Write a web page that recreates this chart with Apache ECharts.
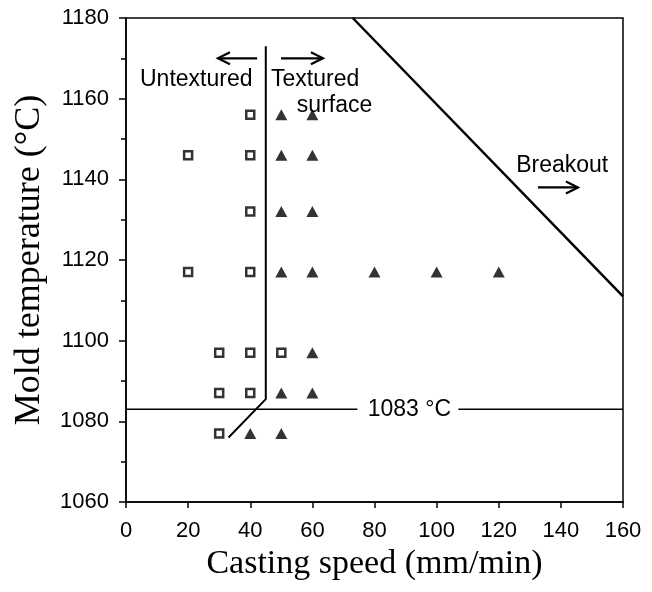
<!DOCTYPE html>
<html>
<head>
<meta charset="utf-8">
<script src="https://cdn.jsdelivr.net/npm/echarts@6/dist/echarts.min.js"></script>
<style>html,body{margin:0;padding:0;background:#fff}#c{width:652px;height:592px}</style>
</head>
<body>
<div id="c"></div>
<script>
// Data
const xTicks = [0, 20, 40, 60, 80, 100, 120, 140, 160];
const yTicks = [1060, 1080, 1100, 1120, 1140, 1160, 1180];
const untextured = [[40,1156],[20,1146],[40,1146],[40,1132],[20,1117],[40,1117],[30,1097],[40,1097],[50,1097],[30,1087],[40,1087],[30,1077]];
const textured = [[50,1156],[60,1156],[50,1146],[60,1146],[50,1132],[60,1132],[50,1117],[60,1117],[80,1117],[100,1117],[120,1117],[60,1097],[50,1087],[60,1087],[40,1077],[50,1077]];
const boundaryLine = [[45,1173],[45,1085.5],[33,1076]];
const meltLineA = [[0,1083],[74.5,1083]];
const meltLineB = [[107,1083],[160,1083]];
const breakoutLine = [[73,1180],[160,1111]];
const labels = [
  {text:'Untextured', x:4.5, y:1164.6},
  {text:'Textured', x:46.7, y:1164.6},
  {text:'surface', x:55, y:1158.2},
  {text:'Breakout', x:125.6, y:1143.5},
  {text:'1083 °C', x:77.8, y:1083}
];
const arrows = [
  {from:[42.2,1170], to:[29.6,1170]},
  {from:[49.9,1170], to:[63.4,1170]},
  {from:[132.6,1138], to:[145.5,1138]}
];

const chart = echarts.init(document.getElementById('c'), null, {renderer:'canvas'});
const lineStyleSeries = (data, w) => ({type:'line', data, symbol:'none', silent:true, lineStyle:{color:'#000', width:w}, z:3});
chart.setOption({
  animation:false,
  backgroundColor:'#fff',
  grid:{left:126, right:29, top:18, bottom:90, show:true, borderColor:'#000', borderWidth:1.5, outerBoundsMode:'none', containLabel:false},
  xAxis:{type:'value', min:0, max:160, interval:20,
    name:'Casting speed (mm/min)', nameLocation:'middle', nameGap:39,
    nameTextStyle:{fontFamily:'Liberation Serif', fontSize:34, color:'#000'},
    axisLine:{lineStyle:{color:'#000', width:1.5}},
    axisTick:{inside:false, length:6, lineStyle:{color:'#000', width:1.5}},
    axisLabel:{fontFamily:'Liberation Sans', fontSize:22, color:'#000', margin:18, formatter:v=>String(v)},
    splitLine:{show:false}},
  yAxis:{type:'value', min:1060, max:1180, interval:20,
    name:'Mold temperature (°C)', nameLocation:'middle', nameGap:78, nameRotate:90,
    nameTextStyle:{fontFamily:'Liberation Serif', fontSize:36, color:'#000'},
    axisLine:{lineStyle:{color:'#000', width:1.5}},
    axisTick:{inside:false, length:7, lineStyle:{color:'#000', width:1.5}},
    minorTick:{show:true, splitNumber:2, length:5, lineStyle:{color:'#000', width:1.5}},
    axisLabel:{fontFamily:'Liberation Sans', fontSize:22, color:'#000', margin:17, formatter:v=>String(v)},
    splitLine:{show:false}},
  series:[
    lineStyleSeries(boundaryLine, 2),
    lineStyleSeries(meltLineA, 1.5),
    lineStyleSeries(meltLineB, 1.5),
    lineStyleSeries(breakoutLine, 2.5),
    {type:'scatter', data:untextured, symbol:'rect', symbolSize:8, z:5,
      itemStyle:{color:'#fff', borderColor:'#000', borderWidth:2.5}},
    {type:'scatter', data:textured, symbol:'triangle', symbolSize:[12,11], z:5,
      itemStyle:{color:'#000'}}
  ]
});

function drawAnnotations(){
  const g = [];
  labels.forEach(l => {
    const p = chart.convertToPixel({gridIndex:0}, [l.x, l.y]);
    g.push({type:'text', x:p[0], y:p[1], z:10,
      style:{text:l.text, fill:'#000', font:'23px "Liberation Sans"', textAlign:'left', textVerticalAlign:'middle', verticalAlign:'middle'}});
  });
  arrows.forEach(a => {
    const p1 = chart.convertToPixel({gridIndex:0}, a.from);
    const p2 = chart.convertToPixel({gridIndex:0}, a.to);
    const dir = Math.sign(p2[0]-p1[0]);
    g.push({type:'line', z:10, shape:{x1:p1[0], y1:p1[1], x2:p2[0], y2:p2[1]}, style:{stroke:'#000', lineWidth:2.2}});
    g.push({type:'polyline', z:10, shape:{points:[[p2[0]-dir*12, p2[1]-6],[p2[0], p2[1]],[p2[0]-dir*12, p2[1]+6]]}, style:{stroke:'#000', lineWidth:2.2, fill:null}});
  });
  chart.setOption({graphic:g});
}
drawAnnotations();
</script>
</body>
</html>
